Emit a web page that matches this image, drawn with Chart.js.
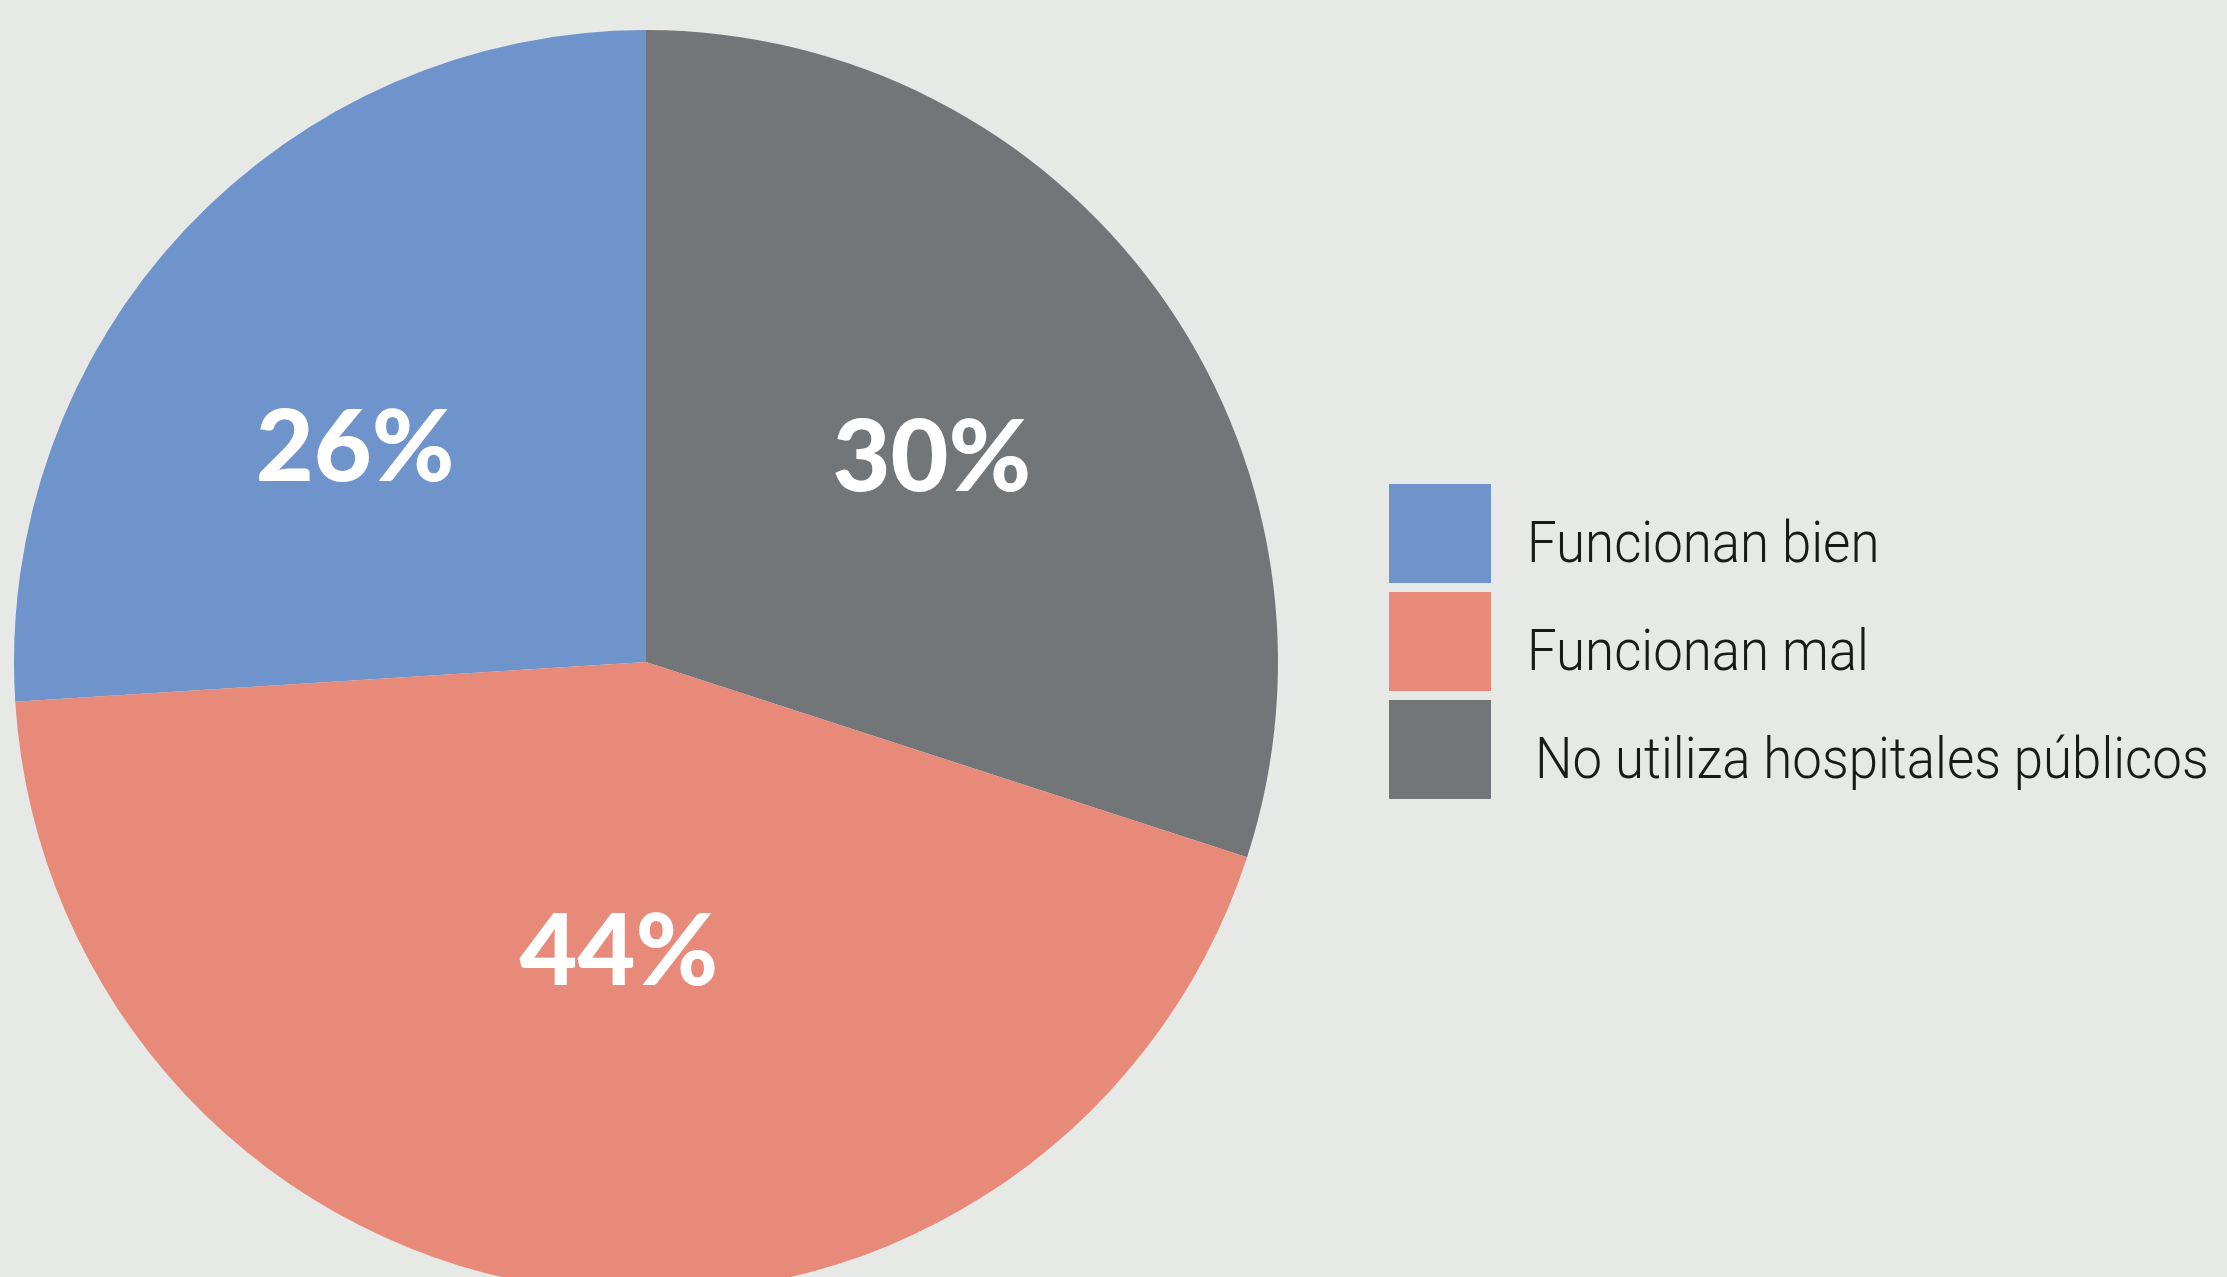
<!DOCTYPE html>
<html>
<head>
<meta charset="utf-8">
<title>Hospitales públicos</title>
<script src="https://cdn.jsdelivr.net/npm/chart.js@4/dist/chart.umd.min.js"></script>
<style>
    html, body {
        margin: 0;
        padding: 0;
        background: #e7e9e6;
        overflow: hidden;
    }
    #wrap {
        position: relative;
        width: 2227px;
        height: 1330px;
    }
</style>
</head>
<body>
<div id="wrap"><canvas id="pieChart"></canvas></div>
<script>
// Chart data (legend order)
const categories = ['Funcionan bien', 'Funcionan mal', 'No utiliza hospitales públicos'];
const shares = [26, 44, 30];
const sliceColors = ['#6f93cb', '#e88a7a', '#737679'];

// Clockwise drawing order starting from the blue slice
const drawOrder = [0, 2, 1];

// Where the percent labels sit inside each slice (fraction of radius, angle shift in degrees)
const labelPlacement = [
    { r: 0.575, shift: -6.4 },
    { r: 0.455, shift: -1.8 },
    { r: 0.559, shift: 0 }
];

// Draw percent labels and the legend on the canvas
const pieDecorations = {
    id: 'pieDecorations',
    afterDatasetsDraw(chart) {
        const ctx = chart.ctx;
        const meta = chart.getDatasetMeta(0);

        // Percent labels
        ctx.save();
        ctx.fillStyle = '#ffffff';
        ctx.font = '900 100px Lato, "Liberation Sans", sans-serif';
        ctx.textAlign = 'center';
        ctx.textBaseline = 'alphabetic';
        meta.data.forEach((arc, i) => {
            const idx = drawOrder[i];
            const place = labelPlacement[idx];
            const mid = (arc.startAngle + arc.endAngle) / 2 + place.shift * Math.PI / 180;
            const dist = arc.outerRadius * place.r;
            const x = arc.x + Math.cos(mid) * dist;
            const y = arc.y + Math.sin(mid) * dist;
            ctx.fillText(shares[idx] + '%', x, y + 37);
        });
        ctx.restore();

        // Legend
        const boxX = 1389;
        const boxW = 102;
        const boxH = 99;
        const firstTop = 484;
        const step = 108;
        categories.forEach((name, i) => {
            const top = firstTop + i * step;
            ctx.fillStyle = sliceColors[i];
            ctx.fillRect(boxX, top, boxW, boxH);

            // slightly condensed label text
            ctx.save();
            ctx.font = '300 58px Roboto, "Liberation Sans", sans-serif';
            ctx.textAlign = 'left';
            ctx.textBaseline = 'alphabetic';
            ctx.fillStyle = '#1a1a1a';
            const textX = i === 2 ? 1535 : 1527;
            ctx.translate(textX, top + boxH / 2 + 28);
            ctx.scale(0.91, 1);
            ctx.fillText(name, 0, 0);
            ctx.restore();
        });
    }
};

document.addEventListener('DOMContentLoaded', function() {
    const canvas = document.getElementById('pieChart');
    new Chart(canvas, {
        type: 'pie',
        data: {
            labels: drawOrder.map(i => categories[i]),
            datasets: [{
                data: drawOrder.map(i => shares[i]),
                backgroundColor: drawOrder.map(i => sliceColors[i]),
                borderWidth: 0
            }]
        },
        options: {
            responsive: true,
            maintainAspectRatio: false,
            animation: false,
            events: [],
            rotation: -93.6,
            layout: {
                padding: { left: 14, top: 30, right: 949, bottom: 36 }
            },
            plugins: {
                legend: { display: false },
                tooltip: { enabled: false }
            }
        },
        plugins: [pieDecorations]
    });
});
</script>
</body>
</html>
